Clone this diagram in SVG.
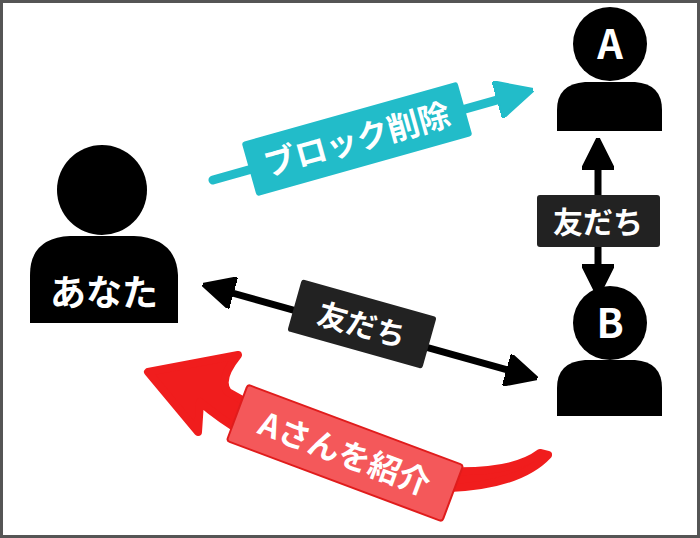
<svg xmlns="http://www.w3.org/2000/svg" width="700" height="538" viewBox="0 0 700 538">
<defs>
<style>
.p{fill:#000}
.t{font-family:"Noto Sans CJK JP","Noto Sans",sans-serif;font-weight:bold;fill:#fff}
</style>
<marker id="ab" viewBox="0 0 10 10" refX="5" refY="5" markerWidth="4.6" markerHeight="4.6" orient="auto-start-reverse"><path d="M0,0 L10,5 L0,10 Z" fill="#000" stroke="#000" stroke-linejoin="round"/></marker>
<marker id="at" viewBox="0 0 10 10" refX="5" refY="5" markerWidth="4.2" markerHeight="4.2" orient="auto"><path d="M0,0 L10,5 L0,10 Z" fill="#22bcc9" stroke="#22bcc9" stroke-linejoin="round"/></marker>
</defs>
<rect x="1.5" y="1.5" width="697" height="535" fill="#fff" stroke="#555" stroke-width="3"/>
<g id="you">
<circle class="p" cx="102" cy="190" r="45"/>
<path class="p" d="M30,323 V275 Q30,238 70,236 H134 Q176,238 178,275 V323 Z"/>
<text class="t" x="104" y="306" font-size="36" text-anchor="middle">あなた</text>
</g>
<g id="personA">
<circle class="p" cx="610" cy="44" r="37"/>
<text class="t" x="610" y="59" font-size="40" text-anchor="middle" font-family="Liberation Sans">A</text>
<path class="p" d="M557,131 V110 Q557,84 585,82 H635 Q662,84 662,110 V131 Z"/>
</g>
<g id="personB">
<circle class="p" cx="610" cy="323" r="37"/>
<text class="t" x="610" y="338" font-size="40" text-anchor="middle" font-family="Liberation Sans">B</text>
<path class="p" d="M557,416 V388 Q557,362 585,360 H635 Q662,362 662,388 V416 Z"/>
</g>
<g id="connectors">
<line x1="598" y1="154" x2="598" y2="280" stroke="#000" stroke-width="7" marker-start="url(#ab)" marker-end="url(#ab)"/>
<rect x="537" y="195" width="123" height="52" rx="3" fill="#222"/>
<text class="t" x="598" y="233" font-size="30" text-anchor="middle">友だち</text>
<line x1="218" y1="289" x2="522" y2="374" stroke="#000" stroke-width="7" marker-start="url(#ab)" marker-end="url(#ab)"/>
<g transform="translate(362,324) rotate(15.7)">
<rect x="-70" y="-27" width="140" height="54" rx="3" fill="#222"/>
<text class="t" x="0" y="12" font-size="30" text-anchor="middle">友だち</text>
</g>
<line x1="213" y1="180" x2="515" y2="95" stroke="#22bcc9" stroke-width="9" stroke-linecap="round" marker-end="url(#at)"/>
<g transform="translate(357,139) rotate(-15.7)">
<rect x="-112" y="-28" width="224" height="56" rx="3" fill="#22bcc9"/>
<text class="t" x="0" y="12" font-size="32" text-anchor="middle">ブロック削除</text>
</g>
<path d="M548,455 Q520,485 450,488 Q300,480 210,410 L200,402 L198,432 L148,372 L238,355 Q218,380 228,392 Q320,445 430,470 Q510,476 540,453 Z" fill="#f01d1d" stroke="#f01d1d" stroke-width="8" stroke-linejoin="round"/>
<g transform="translate(345,453) rotate(20.5)">
<rect x="-115" y="-30" width="230" height="60" rx="3" fill="#f4585a" stroke="#e01c1c" stroke-width="2"/>
<text class="t" x="0" y="12" font-size="32" text-anchor="middle">Aさんを紹介</text>
</g>
</g>
</svg>
